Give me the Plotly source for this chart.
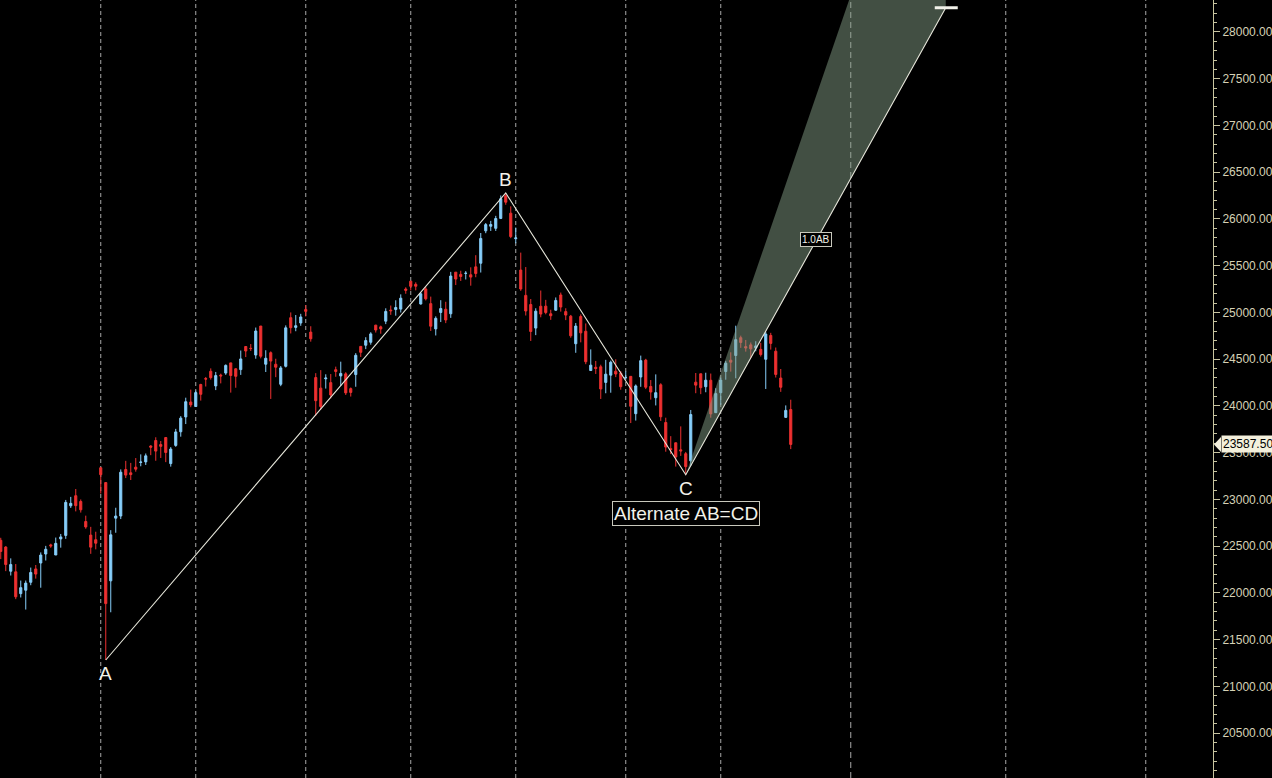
import plotly.graph_objects as go

# ---------------- data (NIFTY daily) ----------------
dates = [
    "2024-05-06", "2024-05-07", "2024-05-08", "2024-05-09", "2024-05-10", "2024-05-13", "2024-05-14",
    "2024-05-15", "2024-05-16", "2024-05-17", "2024-05-18", "2024-05-21", "2024-05-22", "2024-05-23",
    "2024-05-24", "2024-05-27", "2024-05-28", "2024-05-29", "2024-05-30", "2024-05-31",
    "2024-06-03", "2024-06-04", "2024-06-05", "2024-06-06", "2024-06-07", "2024-06-10", "2024-06-11",
    "2024-06-12", "2024-06-13", "2024-06-14", "2024-06-18", "2024-06-19", "2024-06-20", "2024-06-21",
    "2024-06-24", "2024-06-25", "2024-06-26", "2024-06-27", "2024-06-28",
    "2024-07-01", "2024-07-02", "2024-07-03", "2024-07-04", "2024-07-05", "2024-07-08", "2024-07-09",
    "2024-07-10", "2024-07-11", "2024-07-12", "2024-07-15", "2024-07-16", "2024-07-18", "2024-07-19",
    "2024-07-22", "2024-07-23", "2024-07-24", "2024-07-25", "2024-07-26", "2024-07-29", "2024-07-30",
    "2024-07-31",
    "2024-08-01", "2024-08-02", "2024-08-05", "2024-08-06", "2024-08-07", "2024-08-08", "2024-08-09",
    "2024-08-12", "2024-08-13", "2024-08-14", "2024-08-16", "2024-08-19", "2024-08-20", "2024-08-21",
    "2024-08-22", "2024-08-23", "2024-08-26", "2024-08-27", "2024-08-28", "2024-08-29", "2024-08-30",
    "2024-09-02", "2024-09-03", "2024-09-04", "2024-09-05", "2024-09-06", "2024-09-09", "2024-09-10",
    "2024-09-11", "2024-09-12", "2024-09-13", "2024-09-16", "2024-09-17", "2024-09-18", "2024-09-19",
    "2024-09-20", "2024-09-23", "2024-09-24", "2024-09-25", "2024-09-26", "2024-09-27", "2024-09-30",
    "2024-10-01", "2024-10-03", "2024-10-04", "2024-10-07", "2024-10-08", "2024-10-09", "2024-10-10",
    "2024-10-11", "2024-10-14", "2024-10-15", "2024-10-16", "2024-10-17", "2024-10-18", "2024-10-21",
    "2024-10-22", "2024-10-23", "2024-10-24", "2024-10-25", "2024-10-28", "2024-10-29", "2024-10-30",
    "2024-10-31",
    "2024-11-01", "2024-11-04", "2024-11-05", "2024-11-06", "2024-11-07", "2024-11-08", "2024-11-11",
    "2024-11-12", "2024-11-13", "2024-11-14", "2024-11-18", "2024-11-19", "2024-11-21", "2024-11-22",
    "2024-11-25", "2024-11-26", "2024-11-27", "2024-11-28", "2024-11-29",
    "2024-12-02", "2024-12-03", "2024-12-04", "2024-12-05", "2024-12-06", "2024-12-09", "2024-12-10",
    "2024-12-11", "2024-12-12", "2024-12-13", "2024-12-16", "2024-12-17", "2024-12-18", "2024-12-19",
    "2024-12-20",
]

opens = [
    22561.6, 22489.75, 22231.2, 22224.8, 21990.95, 22027.95, 22112.9, 22255.6, 22319.2, 22415.25,
    22512.85, 22404.55, 22576.6, 22614.1, 22930.75, 23038.95, 22977.15, 22762.75, 22617.45, 22568.1,
    23337.9, 23179.5, 22128.35, 22798.6, 22821.85, 23319.15, 23283.75, 23344.45, 23394.9, 23400.8,
    23570.75, 23629.55, 23586.15, 23661.15, 23382.6, 23577.1, 23723.1, 23881.55, 24041.15,
    23992.95, 24228.75, 24291.75, 24369.95, 24213.35, 24329.45, 24351.0, 24459.85, 24396.55, 24387.95,
    24635.05, 24615.9, 24543.8, 24853.8, 24445.75, 24568.9, 24444.95, 24230.95, 24423.35, 24943.3,
    24839.4, 24886.7,
    25030.95, 24789.0, 24302.85, 24189.85, 24289.4, 24248.55, 24386.85, 24320.05, 24342.35, 24184.4,
    24334.85, 24636.35, 24648.9, 24680.55, 24863.4, 24845.4, 24906.1, 25024.8, 25030.8, 25035.3,
    25249.7,
    25333.6, 25300.2, 25089.95, 25250.5, 25093.7, 24823.4, 24999.4, 25034.0, 24985.3, 25430.45,
    25406.65, 25416.9, 25402.4, 25487.05, 25525.95, 25872.55, 25921.45, 25899.45, 26005.4, 26248.25,
    26061.3,
    25788.45, 25452.85, 25181.9, 25084.1, 24832.2, 25065.8, 25067.05, 24985.3, 25023.45, 25186.3,
    25008.55, 24959.5, 24664.95, 24956.15, 24798.65, 24378.15, 24412.7, 24418.05, 24251.1, 24328.85,
    24371.45, 24349.85,
    24302.75, 24315.75, 23916.5, 24308.75, 24489.6, 24207.7, 24087.25, 24225.8, 23822.45, 23542.15,
    23605.3, 23529.55, 23488.45, 23411.8, 24253.55, 24343.3, 24204.8, 24274.15, 23927.15,
    24140.85, 24367.5, 24488.75, 24539.15, 24729.45, 24633.9, 24652.65, 24620.5, 24604.45, 24498.35,
    24753.4, 24584.8, 24297.95, 23877.15, 23960.7,
]

highs = [
    22588.8, 22499.05, 22368.65, 22307.75, 22131.3, 22131.65, 22270.05, 22297.55, 22432.25, 22502.15,
    22525.05, 22591.1, 22629.5, 22993.6, 23026.4, 23110.8, 22998.55, 22825.5, 22705.75, 22653.75,
    23338.7, 23179.5, 22670.4, 22910.15, 23320.2, 23411.9, 23389.9, 23441.95, 23481.05, 23490.4,
    23579.05, 23664.0, 23624.0, 23667.1, 23558.85, 23754.15, 23889.9, 24087.45, 24174.0,
    24164.0, 24236.35, 24309.15, 24401.0, 24363.0, 24344.6, 24443.6, 24461.05, 24402.65, 24592.2,
    24635.05, 24661.25, 24837.75, 24854.8, 24595.2, 24582.55, 24504.25, 24426.15, 24861.15, 24999.75,
    24971.75, 24984.6,
    25078.3, 24851.9, 24350.05, 24382.6, 24337.7, 24340.5, 24419.75, 24472.8, 24359.95, 24196.5,
    24563.9, 24638.8, 24734.3, 24787.95, 24867.35, 24858.4, 25043.8, 25073.1, 25129.6, 25192.9,
    25268.35,
    25333.65, 25321.7, 25216.0, 25275.45, 25168.75, 24957.5, 25130.5, 25113.7, 25433.35, 25430.5,
    25445.7, 25441.65, 25482.2, 25611.95, 25849.25, 25956.0, 25978.9, 26032.8, 26250.9, 26277.35,
    26134.7,
    25907.6, 25639.45, 25485.05, 25143.0, 25044.0, 25234.05, 25134.05, 25028.65, 25159.75, 25212.05,
    25044.25, 24972.9, 24886.2, 24978.3, 24882.0, 24604.25, 24480.65, 24440.25, 24492.6, 24484.5,
    24498.2, 24372.45,
    24368.25, 24316.75, 24229.05, 24537.6, 24503.35, 24276.15, 24336.8, 24242.0, 23873.6, 23675.9,
    23606.8, 23780.65, 23507.3, 23956.1, 24351.55, 24343.3, 24354.55, 24345.75, 24188.45,
    24301.7, 24481.35, 24573.2, 24857.75, 24751.05, 24705.0, 24677.8, 24691.75, 24675.25, 24792.3,
    24781.25, 24624.1, 24394.45, 24004.9, 24065.8,
]

lows = [
    22360.8, 22232.05, 22185.2, 21932.4, 21950.3, 21821.05, 22081.25, 22151.75, 22054.55, 22345.65,
    22482.0, 22404.55, 22483.15, 22577.45, 22908.0, 22871.2, 22858.5, 22685.45, 22417.0, 22465.1,
    23062.3, 21281.45, 21791.95, 22642.6, 22789.05, 23227.65, 23206.65, 23295.95, 23353.9, 23367.75,
    23472.85, 23412.9, 23442.6, 23398.2, 23350.0, 23562.05, 23670.4, 23805.4, 23985.8,
    23992.7, 24056.4, 24207.1, 24281.0, 24168.85, 24240.55, 24331.9, 24141.8, 24193.75, 24331.15,
    24522.15, 24587.65, 24504.45, 24508.15, 24362.3, 24074.2, 24307.25, 24210.8, 24410.9, 24774.6,
    24798.65, 24856.5,
    24956.4, 24686.85, 23893.7, 23960.4, 24184.9, 24079.7, 24311.2, 24212.1, 24116.5, 24099.7,
    24204.5, 24522.95, 24607.2, 24654.5, 24784.45, 24771.65, 24874.7, 24973.65, 24964.65, 24998.5,
    25199.4,
    25235.5, 25235.8, 25083.8, 25127.75, 24801.3, 24753.15, 24896.8, 24885.15, 24941.45, 25292.45,
    25336.2, 25352.25, 25285.55, 25376.05, 25426.6, 25847.35, 25871.45, 25871.35, 25998.4, 26151.4,
    25794.1,
    25739.2, 25230.3, 24966.8, 24694.35, 24756.8, 24947.7, 24979.4, 24920.05, 25017.5, 25008.15,
    24917.5, 24728.9, 24567.65, 24679.6, 24445.8, 24378.1, 24341.2, 24073.9, 24134.9, 24140.85,
    24307.3, 24172.6,
    24280.2, 23816.15, 23842.75, 24204.05, 24179.6, 24066.65, 24004.6, 23839.15, 23509.6, 23484.15,
    23350.4, 23464.8, 23263.15, 23359.0, 24135.45, 24125.4, 24145.65, 23873.35, 23927.15,
    24008.65, 24280.0, 24366.3, 24295.55, 24620.5, 24580.05, 24510.65, 24583.85, 24527.95, 24180.8,
    24601.75, 24303.45, 24149.85, 23870.3, 23537.35,
]

closes = [
    22442.7, 22302.5, 22302.5, 21957.5, 22055.2, 22104.05, 22217.85, 22200.55, 22403.85, 22466.1,
    22502.0, 22529.05, 22597.8, 22967.65, 22957.1, 22932.45, 22888.15, 22704.7, 22488.65, 22530.7,
    23263.9, 21884.5, 22620.35, 22821.4, 23290.15, 23259.2, 23264.85, 23322.95, 23398.9, 23465.6,
    23557.9, 23516.0, 23567.0, 23501.1, 23537.85, 23721.3, 23868.8, 24044.5, 24010.6,
    24141.95, 24123.85, 24286.5, 24302.15, 24323.85, 24320.55, 24433.2, 24324.45, 24315.95, 24502.15,
    24586.7, 24613.0, 24800.85, 24530.9, 24509.25, 24479.05, 24413.5, 24406.1, 24834.85, 24836.1,
    24857.3, 24951.15,
    25010.9, 24717.7, 24055.6, 23992.55, 24297.5, 24117.0, 24367.5, 24347.0, 24139.0, 24143.75,
    24541.15, 24572.65, 24698.85, 24770.2, 24811.5, 24823.15, 25010.6, 25017.75, 25052.35, 25151.95,
    25235.9,
    25278.7, 25279.85, 25198.7, 25145.1, 24852.15, 24936.4, 25041.1, 24918.45, 25388.9, 25356.5,
    25383.75, 25418.55, 25377.55, 25415.8, 25790.95, 25939.05, 25940.4, 26004.15, 26216.05, 26178.95,
    25810.85,
    25796.9, 25250.1, 25014.6, 24795.75, 25013.15, 24981.95, 24998.45, 24964.25, 25127.95, 25057.35,
    24971.3, 24749.85, 24854.05, 24781.1, 24472.1, 24435.5, 24399.4, 24180.8, 24339.15, 24466.85,
    24340.85, 24205.35,
    24304.35, 23995.35, 24213.3, 24484.05, 24199.35, 24148.2, 24141.3, 23883.45, 23559.05, 23532.7,
    23453.8, 23518.5, 23349.9, 23907.25, 24221.9, 24194.5, 24274.9, 23914.15, 24131.1,
    24276.05, 24457.15, 24467.45, 24708.4, 24677.8, 24619.0, 24610.05, 24641.8, 24548.7, 24768.3,
    24668.25, 24336.0, 24198.85, 23951.7, 23587.5,
]

# Bar positions (0 = first bar shown) of the period separators (month / year starts)
separator_idx = [20, 39, 61, 82, 103, 125, 144, 170, 201, 229]
year_separator_idx = [170]

# AB=CD pattern pivots: A, B, C, D (bar index, price)
pattern_labels = ["A", "B", "C"]
pattern_idx = [21, 101, 137, 189]
pattern_price = [21281.45, 26277.35, 23263.15, 28259.05]
ext_1618_price = 31346.6   # upper edge of projection zone at D's bar
label_1ab_pos = (163, 25775)
last_price = 23587.50

# ---------------- figure ----------------
UP = "#87cefa"
DOWN = "#ee3030"
AXIS = "#c8c4a0"
TXT = "#d6d2b6"
WHITE = "#f2f2ea"

x_idx = list(range(len(dates)))

fig = go.Figure()

fig.add_trace(go.Candlestick(
    x=x_idx, open=opens, high=highs, low=lows, close=closes,
    hovertext=dates,
    increasing=dict(line=dict(color=UP, width=1), fillcolor=UP),
    decreasing=dict(line=dict(color=DOWN, width=1), fillcolor=DOWN),
    whiskerwidth=0, showlegend=False,
))

# projection zone (C -> 1.618AB / 1.0AB at D bar)
cI, dI = pattern_idx[2], pattern_idx[3]
cP, dP = pattern_price[2], pattern_price[3]
fig.add_trace(go.Scatter(
    x=[cI, dI, dI, cI], y=[cP, ext_1618_price, dP, cP],
    mode="lines", fill="toself", fillcolor="rgba(132,158,134,0.5)",
    line=dict(width=0), hoverinfo="skip", showlegend=False,
))

# A-B-C-D legs
fig.add_trace(go.Scatter(
    x=pattern_idx, y=pattern_price, mode="lines",
    line=dict(color="#e6e6da", width=1.1), hoverinfo="skip", showlegend=False,
))

shapes = []
for s in separator_idx:
    dash = "6px,4px" if s in year_separator_idx else "4px,3px"
    shapes.append(dict(type="line", xref="x", yref="paper", x0=s, x1=s, y0=0, y1=1,
                       line=dict(color="#a8a8a8", width=1, dash=dash), layer="below"))
# D marker
shapes.append(dict(type="line", xref="x", yref="y", x0=dI - 2.2, x1=dI + 2.4, y0=dP, y1=dP,
                   line=dict(color=WHITE, width=3)))
# price tag arrow on axis
pw = 1213.0
shapes.append(dict(type="path", xref="paper", yref="y",
                   path=(f"M {1 + 1/pw} {last_price} L {1 + 8/pw} {last_price + 80} "
                         f"L {1 + 8/pw} {last_price - 80} Z"),
                   fillcolor="#f4f0dc", line=dict(width=0)))

annotations = []
offs = [-14, 14, -14]
for lbl, i, p, o in zip(pattern_labels, pattern_idx[:3], pattern_price[:3], offs):
    annotations.append(dict(x=i, y=p, xref="x", yref="y", text=lbl, showarrow=False,
                            yshift=o, font=dict(family="Liberation Sans, Arial", size=19, color=WHITE)))
annotations.append(dict(x=cI, y=cP, xref="x", yref="y", text="Alternate AB=CD", showarrow=False,
                        yshift=-39, font=dict(family="Liberation Sans, Arial", size=19, color=WHITE),
                        bordercolor="#c8c8bc", borderwidth=1, borderpad=1, bgcolor="#000000"))
annotations.append(dict(x=label_1ab_pos[0], y=label_1ab_pos[1], xref="x", yref="y", text="1.0AB",
                        showarrow=False, font=dict(family="Liberation Sans, Arial", size=10, color=WHITE),
                        bordercolor="#c8c8bc", borderwidth=1, borderpad=1, bgcolor="#000000"))
annotations.append(dict(x=1, y=last_price, xref="paper", yref="y", text="23587.50", showarrow=False,
                        xanchor="left", xshift=8, font=dict(family="Liberation Sans, Arial", size=12, color="#000000"),
                        bgcolor="#f4f0dc", borderpad=1))

fig.update_layout(
    width=1272, height=778,
    margin=dict(l=0, r=59, t=0, b=0),
    paper_bgcolor="#000000", plot_bgcolor="#000000",
    boxgap=0.4,
    showlegend=False,
    shapes=shapes, annotations=annotations,
    xaxis=dict(range=[-0.15, 242.45], showgrid=False, zeroline=False, showticklabels=False,
               rangeslider=dict(visible=False), fixedrange=True, showline=False),
    yaxis=dict(range=[20019, 28342], side="right", showgrid=False, zeroline=False,
               dtick=500, tick0=0, tickformat=".2f", ticks="outside", ticklen=6, tickcolor=AXIS,
               showline=True, linecolor=AXIS, linewidth=1,
               tickfont=dict(family="Liberation Sans, Arial", size=12, color=TXT),
               minor=dict(dtick=100, ticks="outside", ticklen=3, tickcolor=AXIS)),
)

fig.write_html(
    "out.html",
    config={"displayModeBar": False},
    post_script="document.body.style.margin='0px';document.body.style.background='#000000';",
)
